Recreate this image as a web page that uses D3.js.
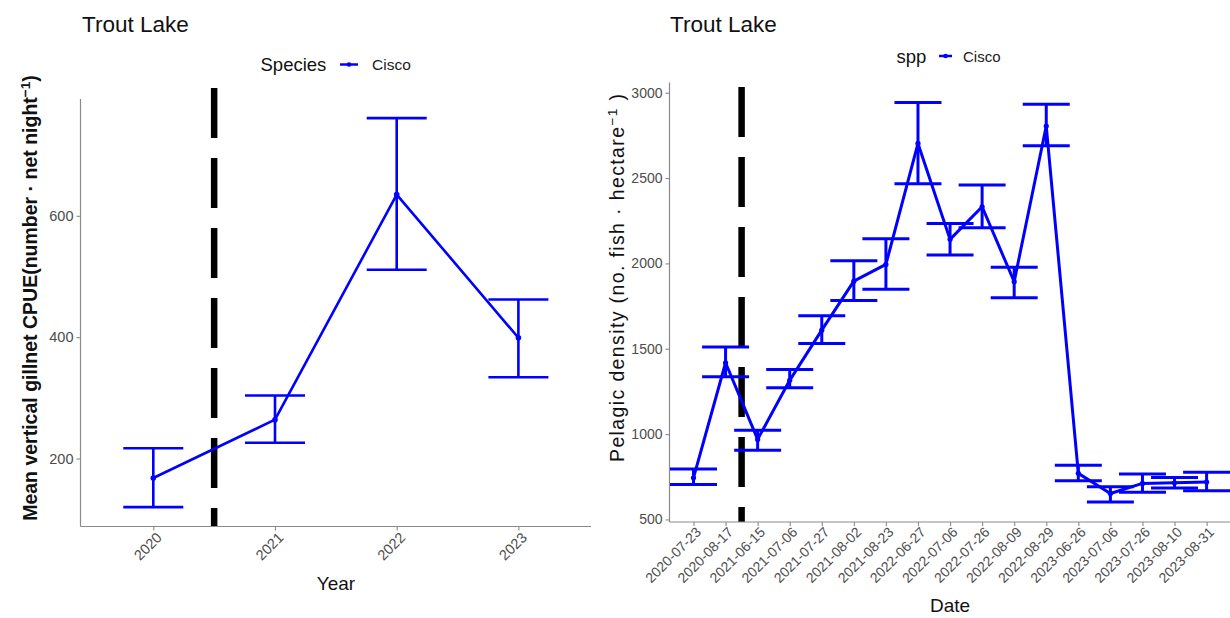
<!DOCTYPE html>
<html>
<head>
<meta charset="utf-8">
<script src="https://cdn.jsdelivr.net/npm/d3@7"></script>
<style>
  html, body { margin: 0; padding: 0; background: #fff; }
  svg { display: block; }
  text { font-family: "Liberation Sans", Arial, sans-serif; }
</style>
</head>
<body>
<svg id="chart" width="1230" height="618"></svg>
<script>
// ---------- Data: left panel (gillnet CPUE by year) ----------
const yearCats = ["2020", "2021", "2022", "2023"];
const cpueMean = [168, 264, 635, 399];
const cpueLower = [120, 226, 511, 334];
const cpueUpper = [217, 304, 761, 462];
const cpueTicks = [200, 400, 600];

// ---------- Data: right panel (pelagic density by date) ----------
const dateCats = ["2020-07-23", "2020-08-17", "2021-06-15", "2021-07-06", "2021-07-27",
  "2021-08-02", "2021-08-23", "2022-06-27", "2022-07-06", "2022-07-26", "2022-08-09",
  "2022-08-29", "2023-06-26", "2023-07-06", "2023-07-26", "2023-08-10", "2023-08-31"];
const densMean = [744, 1418, 969, 1315, 1609, 1896, 1994, 2703, 2141, 2332, 1893, 2805, 770, 652, 711, 715, 719];
const densLower = [705, 1336, 906, 1271, 1531, 1783, 1848, 2467, 2049, 2209, 1799, 2689, 727, 602, 660, 684, 668];
const densUpper = [795, 1510, 1023, 1379, 1693, 2016, 2145, 2943, 2234, 2459, 1977, 2932, 818, 691, 766, 746, 777];
const densTicks = [500, 1000, 1500, 2000, 2500, 3000];

const BLUE = "#0000FF";
const AXIS = "#8a8a8a";
const TICKTXT = "#4d4d4d";
const svg = d3.select("#chart");

function drawPanel(opt) {
  const g = svg.append("g");
  const x = d3.scalePoint().domain(opt.cats).range(opt.xRange);
  const y = d3.scaleLinear().domain(opt.yDomain).range([opt.bottom, opt.top]);
  const step = x.step();

  // dashed vertical reference line between first groups
  const vx = x(opt.cats[opt.vIndex]) + step * 0.5;
  g.append("line")
    .attr("x1", vx).attr("x2", vx)
    .attr("y1", opt.vTop).attr("y2", opt.bottom)
    .attr("stroke", "#000").attr("stroke-width", 6.5)
    .attr("stroke-dasharray", "50,20");

  // axes
  const yAxis = d3.axisLeft(y).tickValues(opt.yTicks).tickFormat(d3.format("d")).tickSize(4).tickPadding(3);
  const ya = g.append("g").attr("transform", `translate(${opt.left},0)`).call(yAxis);
  ya.select(".domain").attr("d", `M0,${opt.top}V${opt.bottom}`);
  const xAxis = d3.axisBottom(x).tickSize(4).tickPadding(3);
  const xa = g.append("g").attr("transform", `translate(0,${opt.bottom})`).call(xAxis);
  xa.select(".domain").attr("d", `M${opt.left},0H${opt.right}`);
  [ya, xa].forEach(a => {
    a.select(".domain").attr("stroke", AXIS).attr("stroke-width", 1.2);
    a.selectAll(".tick line").attr("stroke", AXIS).attr("stroke-width", 1.1);
    a.selectAll(".tick text").attr("fill", TICKTXT).attr("font-size", opt.tickFont)
      .attr("font-family", '"Liberation Sans", Arial, sans-serif');
  });
  xa.selectAll(".tick text")
    .attr("text-anchor", "end")
    .attr("y", 0).attr("dy", 0)
    .attr("transform", `translate(${opt.xLabDx},${opt.xLabDy}) rotate(-45)`);

  // error bars
  const hw = opt.capW / 2;
  const eb = g.append("g").attr("stroke", BLUE).attr("stroke-width", opt.lw).attr("fill", "none");
  opt.cats.forEach((c, i) => {
    const cx = x(c);
    eb.append("line").attr("x1", cx).attr("x2", cx).attr("y1", y(opt.lower[i])).attr("y2", y(opt.upper[i]));
    eb.append("line").attr("x1", cx - hw).attr("x2", cx + hw).attr("y1", y(opt.lower[i])).attr("y2", y(opt.lower[i]));
    eb.append("line").attr("x1", cx - hw).attr("x2", cx + hw).attr("y1", y(opt.upper[i])).attr("y2", y(opt.upper[i]));
  });

  // mean line and points
  const line = d3.line().x((d, i) => x(opt.cats[i])).y(d => y(d));
  g.append("path").datum(opt.mean).attr("d", line)
    .attr("fill", "none").attr("stroke", BLUE).attr("stroke-width", opt.lw).attr("stroke-linejoin", "round");
  g.selectAll("circle.pt").data(opt.mean).enter().append("circle")
    .attr("cx", (d, i) => x(opt.cats[i])).attr("cy", d => y(d)).attr("r", opt.ptR).attr("fill", BLUE);

  // title
  g.append("text").attr("x", opt.titleX).attr("y", 32).attr("font-size", 22.5).attr("fill", "#111")
    .text("Trout Lake");

  // legend
  const lg = g.append("g");
  lg.append("text").attr("x", opt.legX).attr("y", opt.legY + 6.5).attr("font-size", opt.legTitleFont).attr("fill", "#111")
    .text(opt.legTitle);
  lg.append("line").attr("x1", opt.keyX1).attr("x2", opt.keyX2).attr("y1", opt.legY).attr("y2", opt.legY)
    .attr("stroke", BLUE).attr("stroke-width", 2.5);
  lg.append("circle").attr("cx", (opt.keyX1 + opt.keyX2) / 2).attr("cy", opt.legY).attr("r", 2.3).attr("fill", BLUE);
  lg.append("text").attr("x", opt.keyTextX).attr("y", opt.legY + 5.5).attr("font-size", opt.legFont).attr("fill", "#222")
    .text("Cisco");

  // x axis title
  g.append("text").attr("x", opt.xTitleX).attr("y", opt.xTitleY).attr("text-anchor", "middle")
    .attr("font-size", 19).attr("fill", "#111").text(opt.xTitle);

  // y axis title
  const yt = g.append("text")
    .attr("transform", `translate(${opt.yTitleX},${opt.yTitleY}) rotate(-90)`)
    .attr("text-anchor", "middle").attr("font-size", opt.yTitleFont)
    .attr("font-weight", opt.yTitleBold ? "bold" : "normal").attr("fill", "#111");
  yt.append("tspan").text(opt.yTitleMain);
  yt.append("tspan").attr("dy", -7).attr("font-size", opt.yTitleFont * 0.7).text("\u22121");
  yt.append("tspan").attr("dy", 7).text(opt.yTitleEnd);
  if (opt.yTitleLen) {
    yt.attr("textLength", opt.yTitleLen).attr("lengthAdjust", "spacing");
  }
  return g;
}

drawPanel({
  cats: yearCats, mean: cpueMean, lower: cpueLower, upper: cpueUpper,
  yDomain: [88, 792.5], yTicks: cpueTicks,
  xRange: [153.3, 518.4], left: 80.5, right: 591, top: 99, bottom: 526.5,
  vIndex: 0, vTop: 88,
  tickFont: 14.5, xLabDx: 9, xLabDy: 12,
  capW: 60, lw: 2.6, ptR: 2.8,
  titleX: 82,
  legTitle: "Species", legX: 260.5, legY: 64.5, legTitleFont: 18.5,
  keyX1: 340, keyX2: 358, keyTextX: 372, legFont: 15.5,
  xTitle: "Year", xTitleX: 336, xTitleY: 590,
  yTitleX: 37, yTitleY: 298, yTitleFont: 19.5, yTitleBold: true,
  yTitleMain: "Mean vertical gillnet CPUE(number \u00b7 net night", yTitleEnd: ")"
});

drawPanel({
  cats: dateCats, mean: densMean, lower: densLower, upper: densUpper,
  yDomain: [485, 3060], yTicks: densTicks,
  xRange: [693.5, 1206.6], left: 669.5, right: 1230, top: 82.5, bottom: 522,
  vIndex: 1, vTop: 87,
  tickFont: 14, xLabDx: 8, xLabDy: 11,
  capW: 47, lw: 3, ptR: 2.6,
  titleX: 670,
  legTitle: "spp", legX: 896.5, legY: 56, legTitleFont: 18.5,
  keyX1: 939, keyX2: 952, keyTextX: 963, legFont: 15,
  xTitle: "Date", xTitleX: 950, xTitleY: 612,
  yTitleX: 624, yTitleY: 278, yTitleFont: 19.5, yTitleBold: false, yTitleLen: 368,
  yTitleMain: "Pelagic density (no. fish \u00b7 hectare", yTitleEnd: " )"
});
</script>
</body>
</html>
